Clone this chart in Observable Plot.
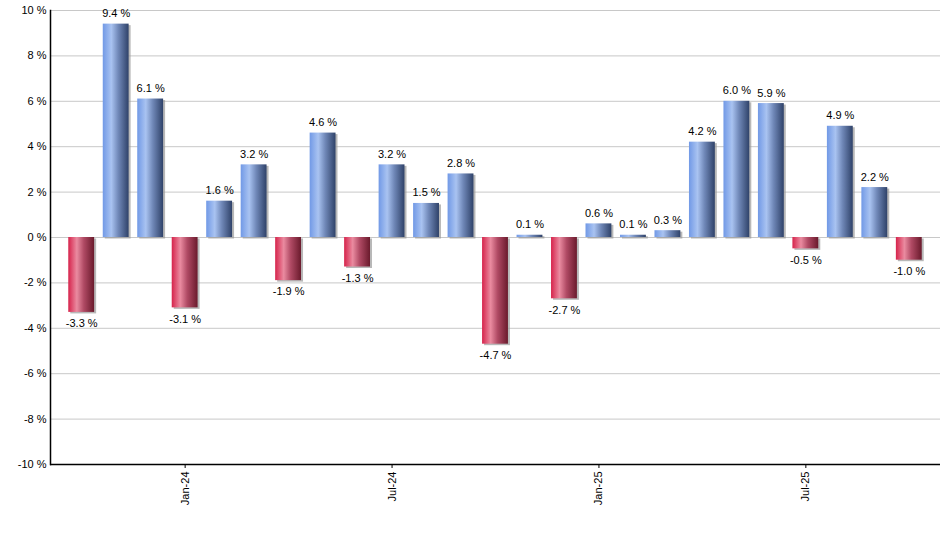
<!DOCTYPE html>
<html>
<head>
<meta charset="utf-8">
<script src="https://cdn.jsdelivr.net/npm/d3@7"></script>
<script src="https://cdn.jsdelivr.net/npm/@observablehq/plot@0.6"></script>
<style>
  html, body { margin: 0; padding: 0; background: #fff; }
</style>
</head>
<body>
<div id="chart"></div>
<script>
const months = ["Oct-23","Nov-23","Dec-23","Jan-24","Feb-24","Mar-24","Apr-24","May-24","Jun-24","Jul-24","Aug-24","Sep-24","Oct-24","Nov-24","Dec-24","Jan-25","Feb-25","Mar-25","Apr-25","May-25","Jun-25","Jul-25","Aug-25","Sep-25","Oct-25"];
const values = [-3.3, 9.4, 6.1, -3.1, 1.6, 3.2, -1.9, 4.6, -1.3, 3.2, 1.5, 2.8, -4.7, 0.1, -2.7, 0.6, 0.1, 0.3, 4.2, 6.0, 5.9, -0.5, 4.9, 2.2, -1.0];
const yTicks = [-10, -8, -6, -4, -2, 0, 2, 4, 6, 8, 10];
const xTicks = ["Jan-24", "Jul-24", "Jan-25", "Jul-25"];

const data = months.map((m, i) => ({month: m, value: values[i]}));
const pos = data.filter(d => d.value >= 0);
const neg = data.filter(d => d.value < 0);
const fmt = d => d.value.toFixed(1) + " %";

const chart = Plot.plot({
  width: 940,
  height: 550,
  marginLeft: 50,
  marginRight: 0,
  marginTop: 10,
  marginBottom: 86,
  style: {fontFamily: "'Liberation Sans', Arial, sans-serif", fontSize: "11px", background: "#fff", color: "#000"},
  x: {domain: months, paddingInner: 0.25, paddingOuter: 0.53, round: false, label: null},
  y: {domain: [-10, 10], label: null},
  marks: [
    Plot.gridY(yTicks, {stroke: "#c8c8c8", strokeOpacity: 1}),
    Plot.barY(data, {x: "month", y: "value", dx: 2, dy: 1.5, fill: "#9a9a9a", fillOpacity: 0.7}),
    Plot.barY(pos, {x: "month", y: "value", fill: "url(#gradBlue)"}),
    Plot.barY(neg, {x: "month", y: "value", fill: "url(#gradRed)"}),
    Plot.text(pos, {x: "month", y: "value", text: fmt, dy: -7, lineAnchor: "bottom", fill: "#000"}),
    Plot.text(neg, {x: "month", y: "value", text: fmt, dy: 7, lineAnchor: "top", fill: "#000"}),
    Plot.axisY(yTicks, {tickFormat: d => d + " %", tickSize: 0, tickPadding: 4, fontSize: 11}),
    Plot.axisX(xTicks, {tickRotate: -90, tickSize: 4, tickPadding: 3, fontSize: 11, stroke: "#000"}),
    Plot.ruleY([-10], {stroke: "#000", strokeWidth: 1.5}),
    Plot.frame({anchor: "left", stroke: "#000", strokeWidth: 1.5})
  ]
});

const svg = d3.select(chart);
const defs = svg.insert("defs", ":first-child");
function grad(id, stops) {
  const g = defs.append("linearGradient").attr("id", id).attr("x1", 0).attr("x2", 1).attr("y1", 0).attr("y2", 0);
  stops.forEach(([o, c]) => g.append("stop").attr("offset", o).attr("stop-color", c));
}
grad("gradBlue", [[0, "#7199e6"], [0.33, "#a9c3f1"], [0.6, "#7088b8"], [1, "#2f4269"]]);
grad("gradRed", [[0, "#d6234b"], [0.33, "#ea8ba0"], [0.6, "#b04a64"], [1, "#6a1a2c"]]);

document.getElementById("chart").appendChild(chart);
</script>
</body>
</html>
